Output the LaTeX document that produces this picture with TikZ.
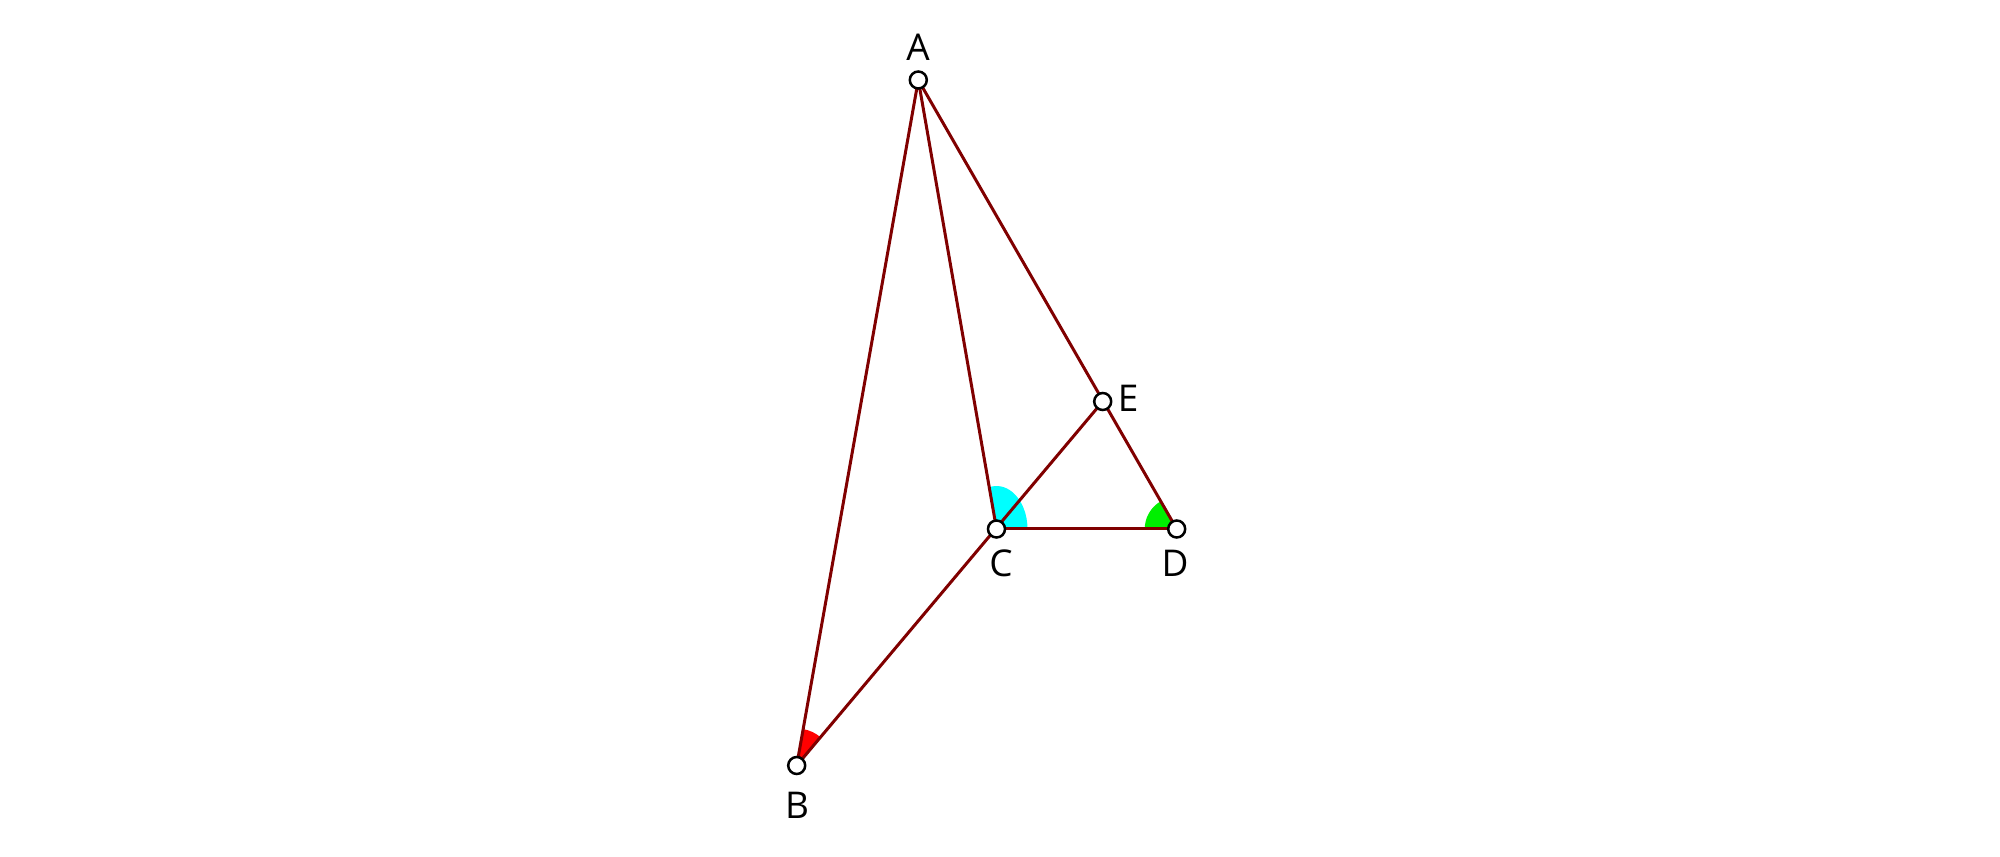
\documentclass[tikz,border=0pt]{standalone}
\usepackage{fontspec}
\setmainfont{Open Sans}
\usetikzlibrary{angles}
\definecolor{seg}{RGB}{128,0,0}
\definecolor{cyanA}{RGB}{0,255,255}
\definecolor{greenA}{RGB}{0,240,0}
\begin{document}
\begin{tikzpicture}[x=0.02cm,y=-0.02cm,
  pt/.style={circle,draw=black,fill=white,line width=0.05cm,minimum size=0.34cm,inner sep=0pt},
  lbl/.style={font=\fontsize{21}{25}\selectfont,inner sep=0pt},
  seg/.style={draw=seg,line width=0.06cm}]
\useasboundingbox (0,0) rectangle (2000,857);
\coordinate (pA) at (918.3,80);
\coordinate (pB) at (796.7,765.5);
\coordinate (pC) at (996.5,529);
\coordinate (pD) at (1176.7,529);
\coordinate (pE) at (1102.7,401.5);
% angle sectors
\fill[cyanA] (pC) -- ++(0:0.62cm) arc[start angle=0,end angle=103.7,x radius=0.62cm,y radius=0.86cm] -- cycle;
\pic[fill=greenA,angle radius=0.64cm] {angle=pE--pD--pC};
\pic[fill=red,angle radius=0.74cm] {angle=pC--pB--pA};
% segments
\draw[seg] (pA) -- (pB);
\draw[seg] (pA) -- (pC);
\draw[seg] (pA) -- (pD);
\draw[seg] (pB) -- (pE);
\draw[seg] (pC) -- (pD);
% points
\node[pt] (A) at (pA) {};
\node[pt] (B) at (pB) {};
\node[pt] (C) at (pC) {};
\node[pt] (D) at (pD) {};
\node[pt] (E) at (pE) {};
% labels
\node[lbl] (lA) at (918,47) {A};
\node[lbl] (lB) at (797,805) {B};
\node[lbl] (lC) at (1001,563) {C};
\node[lbl] (lD) at (1175,563) {D};
\node[lbl] (lE) at (1128,398) {E};
\end{tikzpicture}
\end{document}
